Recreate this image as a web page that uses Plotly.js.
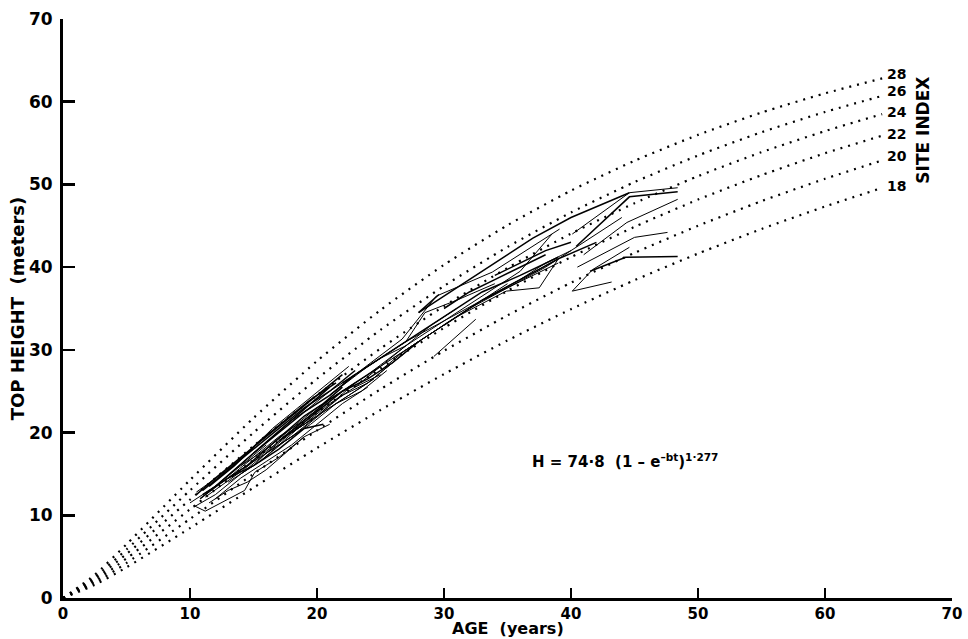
<!DOCTYPE html>
<html>
<head>
<meta charset="utf-8">
<script src="https://cdn.plot.ly/plotly-3.0.1.min.js"></script>
<style>html,body{margin:0;padding:0;background:#fff;}#chart{width:968px;height:639px;}</style>
</head>
<body>
<div id="chart"></div>
<script>
// Site-index guide curves (age in years, top height in metres)
const curveAges = [0, 2.5, 5, 10, 15, 20, 25, 30, 35, 40, 45, 50, 55, 60, 64.5];
const si28 = [0, 2.81, 6.49, 14.26, 21.76, 28.65, 34.82, 40.28, 45.07, 49.25, 52.86, 55.99, 58.69, 61.01, 62.82];
const si26 = [0, 2.54, 5.87, 13.01, 19.99, 26.50, 32.41, 37.72, 42.44, 46.61, 50.28, 53.50, 56.31, 58.76, 60.70];
const si24 = [0, 2.29, 5.33, 11.88, 18.38, 24.51, 30.16, 35.29, 39.91, 44.05, 47.73, 51.00, 53.90, 56.45, 58.50];
const si22 = [0, 2.05, 4.78, 10.72, 16.70, 22.41, 27.75, 32.66, 37.14, 41.21, 44.87, 48.17, 51.12, 53.77, 55.90];
const si20 = [0, 1.81, 4.23, 9.56, 15.00, 20.26, 25.24, 29.88, 34.17, 38.12, 41.72, 45.00, 47.98, 50.68, 52.90];
const si18 = [0, 1.58, 3.71, 8.45, 13.34, 18.14, 22.73, 27.07, 31.14, 34.92, 38.42, 41.64, 44.61, 47.33, 49.58];
const siLabels = ["28", "26", "24", "22", "20", "18"];
const siLabelY = [63.4, 61.3, 58.7, 56.1, 53.4, 49.8];
const tickValues = [0, 10, 20, 30, 40, 50, 60, 70];

const obsAges = [
  [10.5,12,14,16,18,20,22],
  [10.8,13,15,17,19,21,23],
  [10.3,12,14,16,18,20],
  [11,13,15,17,19,21,23],
  [10.4,11.2,14.3,15.1,17,19,21],
  [12,14,16,18,20,22,24],
  [11.5,13.5,15.5,17.5,19.5,21.5],
  [10.5,12.5,14.5,16.5,18.5,20.5,22.5],
  [13,15,17,19,21,23,25],
  [11,13,15,17,19,20.5],
  [14,16,18,20,22,24],
  [12.5,14.5,16.5,18.5,20.5,22.5,24.5],
  [15,17,19,21,23],
  [16,18,20,22,24,26],
  [10,12,14,16],
  [18,20,22,24,26,28],
  [20,22,24,26,28,30],
  [19,21,23,25,27],
  [10.8,12,13.5,15,16.5,18,19.5,21],
  [11.2,12.8,14.2,15.8,17.5,19,20.8],
  [12,13.5,15,16.5,18,19.5],
  [13,14.5,16,17.5,19,20.5,22],
  [14,15.5,17,18.5,20,21.5,23],
  [11.5,13,14.5,16,17.5,19],
  [17,19,21,23,25],
  [15.5,17.5,19.5,21.5,23.5,25.5],
  [21,23,25,27],
  [22,25,28,30,33,36,39],
  [21,24,27,30,33,36,39],
  [23,26.7,29.4,33.8,39.1],
  [28,29.6],
  [29.2,32.5],
  [25,28,31,34.9,37.5,39],
  [28,31,34,37,40,44.6],
  [23,25,27,29,31],
  [25,27,29,31,33,35],
  [30,32,34,36,38],
  [33,35,37,39],
  [27,28.5,31,34],
  [34,36,38,40],
  [24,27,30,33,36,38.5],
  [26,29,32,35,38,40],
  [30,33,36,39,42],
  [36,38,40,42,44],
  [40.1,44.6,48.4],
  [40.4,43.8,44.6,48.4],
  [41,44.4,48.4],
  [40.5,45,47.6],
  [41.5,44.3,48.4],
  [40.1,41.7,44.6],
  [40.1,43.2]
];
const obsHeights = [
  [12.5,14.5,17,19.5,22,24.5,27],
  [12,14.5,17,19.5,21.5,24,26],
  [11,12.5,15,17.5,20,22],
  [13,15.5,18,20.5,23,25,27.5],
  [11.1,10.5,13,15.2,17,19.5,21],
  [12,14.5,16.5,18.5,21,23.5,25.5],
  [13.5,16,19,21.5,24,26],
  [12.8,15,17.5,20.5,23,25.5,28],
  [14,16,19,21,23.5,25.5,27],
  [12.5,14.5,16,18,20.5,21],
  [16,18,20.5,23,25,27],
  [14,16,18,20,22.5,24.5,26.5],
  [17.5,20,22.5,24.5,27],
  [17.5,19.5,22,24.5,26,28.5],
  [11.5,13.5,16,18.5],
  [20,22.5,25,26.5,28.5,31],
  [22,24,26,28.5,31,33],
  [22.5,25,27,29,30.5],
  [12,13.5,15.5,17.5,19.5,21.5,23.5,25.5],
  [12.2,14,15.5,17.5,19.5,21.5,23.5],
  [13.5,15.5,17.5,19.5,21.5,23],
  [14.5,16,18,20,22,23.5,25.5],
  [15,16.5,18.5,20.5,22,24,26],
  [11.5,13,14,15.5,17.5,19.5],
  [19,21.5,24,26,28],
  [16.5,19,21,23.5,25,27.5],
  [24.5,27,29,31],
  [26,29,32,34,37,39,41.2],
  [24.5,28,31,33.5,36,38.5,41],
  [27,31.3,36.5,39.4,44.6],
  [34.5,36.7],
  [29.2,33.7],
  [28,31,34,37.1,37.5,41],
  [34.5,37.5,40.5,43.5,46,49],
  [25.5,28,30.5,33,35],
  [27.5,30,32,34,36,38],
  [35,37,38.5,40,41.5],
  [36,37.5,39,40.5],
  [31,34.5,36,38],
  [39,40.5,42,43],
  [27,30.5,33.5,36.5,39.5,44],
  [29,32,35,37.5,40,42],
  [33,36,38.5,41,43],
  [38.5,40.5,42,44,46],
  [44,49,49.6],
  [42.5,47.4,48.5,49.1],
  [41.5,45.4,48.2],
  [40,43.6,44.2],
  [39.5,41.2,41.3],
  [37.1,39.7,42.4],
  [37.1,38.2]
];

const FONT = "'DejaVu Sans', Verdana, sans-serif";
const traces = [];
const curves = [si28, si26, si24, si22, si20, si18];
curves.forEach(function (c) {
  traces.push({
    x: curveAges, y: c, type: 'scatter', mode: 'lines',
    line: {color: '#000', width: 2.2, dash: '2px,6px', shape: 'spline', smoothing: 0.6},
    hoverinfo: 'skip', showlegend: false
  });
});
obsAges.forEach(function (a, i) {
  traces.push({
    x: a, y: obsHeights[i], type: 'scatter', mode: 'lines',
    line: {color: '#000', width: (i % 3 === 0) ? 1.5 : 1},
    hoverinfo: 'skip', showlegend: false
  });
});

const annotations = siLabels.map(function (s, i) {
  return {x: 64.7, y: siLabelY[i], xref: 'x', yref: 'y', text: '<b>' + s + '</b>', showarrow: false,
          xanchor: 'left', yanchor: 'middle', font: {family: FONT, size: 14, color: '#000'}};
});
annotations.push({x: 67.7, y: 56.6, xref: 'x', yref: 'y', text: '<b>SITE INDEX</b>', showarrow: false,
  textangle: -90, xanchor: 'center', yanchor: 'middle', font: {family: FONT, size: 17, color: '#000'}});
annotations.push({x: 36.8, y: 16.6, xref: 'x', yref: 'y',
  text: '<b>H = 74·8  (1 – e<sup>–bt</sup>)<sup>1·277</sup></b>', showarrow: false,
  xanchor: 'left', yanchor: 'middle', font: {family: FONT, size: 15, color: '#000'}});
// x-axis title placed just under the tick labels, as in the reference
annotations.push({x: 0.5, y: 0, xref: 'paper', yref: 'paper', yshift: -42,
  text: '<b>AGE  (years)</b>', showarrow: false, xanchor: 'center', yanchor: 'bottom',
  font: {family: FONT, size: 16, color: '#000'}});

const tickText = tickValues.map(function (v) { return '<b>' + v + '</b>'; });

const layout = {
  width: 968, height: 639,
  margin: {l: 63, r: 16, t: 19, b: 41},
  paper_bgcolor: '#fff', plot_bgcolor: '#fff',
  font: {family: FONT, color: '#000'},
  showlegend: false,
  xaxis: {
    range: [0, 70], tickvals: tickValues, ticktext: tickText,
    showgrid: false, zeroline: false, showline: true, linecolor: '#000', linewidth: 3,
    ticks: 'inside', ticklen: 10, tickwidth: 2.5, tickcolor: '#000',
    tickfont: {family: FONT, size: 15, color: '#000'},
    ticklabelstandoff: 0
  },
  yaxis: {
    range: [0, 70], tickvals: tickValues, ticktext: tickText,
    showgrid: false, zeroline: false, showline: true, linecolor: '#000', linewidth: 3,
    ticks: 'inside', ticklen: 12, tickwidth: 2.5, tickcolor: '#000',
    tickfont: {family: FONT, size: 17, color: '#000'},
    ticklabelstandoff: 4,
    title: {text: '<b>TOP HEIGHT  (meters)</b>', font: {family: FONT, size: 18, color: '#000'}, standoff: 0}
  },
  annotations: annotations
};

Plotly.newPlot('chart', traces, layout, {staticPlot: true, displayModeBar: false});
</script>
</body>
</html>
